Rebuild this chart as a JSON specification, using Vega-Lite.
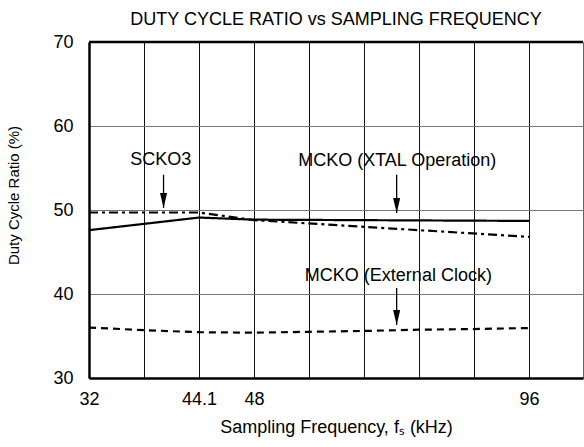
{
  "$schema": "https://vega.github.io/schema/vega-lite/v6.json",
  "width": 494,
  "height": 336,
  "autosize": "none",
  "padding": {"left": 89, "top": 42, "right": 1, "bottom": 69},
  "background": "white",
  "config": {
    "view": {"stroke": "#666666", "strokeWidth": 1},
    "font": "Liberation Sans",
    "axis": {"labelFont": "Liberation Sans", "titleFont": "Liberation Sans", "labelColor": "black", "titleColor": "black", "titleFontWeight": "normal", "ticks": false, "labelFlush": false, "labelOverlap": false}
  },
  "title": {"text": "DUTY CYCLE RATIO vs SAMPLING FREQUENCY", "fontSize": 18, "fontWeight": "normal", "font": "Liberation Sans", "color": "black", "anchor": "middle", "offset": 4},
  "datasets": {
    "lines": [
      {"series": "SCKO3", "f": 32, "v": 49.7},
      {"series": "SCKO3", "f": 44.1, "v": 49.7},
      {"series": "SCKO3", "f": 48, "v": 48.8},
      {"series": "SCKO3", "f": 96, "v": 46.8},
      {"series": "MCKO (XTAL Operation)", "f": 32, "v": 47.6},
      {"series": "MCKO (XTAL Operation)", "f": 44.1, "v": 49.1},
      {"series": "MCKO (XTAL Operation)", "f": 48, "v": 48.85},
      {"series": "MCKO (XTAL Operation)", "f": 96, "v": 48.7},
      {"series": "MCKO (External Clock)", "f": 32, "v": 36.0},
      {"series": "MCKO (External Clock)", "f": 38.05, "v": 35.7},
      {"series": "MCKO (External Clock)", "f": 44.1, "v": 35.45},
      {"series": "MCKO (External Clock)", "f": 48, "v": 35.4},
      {"series": "MCKO (External Clock)", "f": 57.6, "v": 35.5},
      {"series": "MCKO (External Clock)", "f": 67.2, "v": 35.6},
      {"series": "MCKO (External Clock)", "f": 76.8, "v": 35.75},
      {"series": "MCKO (External Clock)", "f": 86.4, "v": 35.83},
      {"series": "MCKO (External Clock)", "f": 96, "v": 35.95}
    ],
    "notes": [
      {"label": "SCKO3", "tf": 39.9, "tv": 55.95, "af": 40.2, "top": 54.2, "tip": 50.25},
      {"label": "MCKO (XTAL Operation)", "tf": 73.0, "tv": 55.8, "af": 72.9, "top": 54.2, "tip": 49.65},
      {"label": "MCKO (External Clock)", "tf": 73.2, "tv": 42.2, "af": 72.9, "top": 40.7, "tip": 36.3}
    ]
  },
  "layer": [
    {
      "data": {"name": "lines"},
      "mark": {"type": "line", "color": "black", "strokeWidth": 2.2},
      "encoding": {
        "x": {
          "field": "f", "type": "quantitative",
          "scale": {"domain": [32, 44.1, 48, 96, 105.4], "range": [0, 110, 165, 440, 494], "nice": false, "zero": false},
          "axis": {
            "title": "Sampling Frequency, fₛ (kHz)",
            "titleFontSize": 18,
            "titlePadding": 10,
            "labelFontSize": 18,
            "labelPadding": 12,
            "values": [32, 38.05, 44.1, 48, 57.6, 67.2, 76.8, 86.4, 96],
            "labelExpr": "datum.value == 32 ? '32' : datum.value == 44.1 ? '44.1' : datum.value == 48 ? '48' : datum.value == 96 ? '96' : ''",
            "grid": true, "gridColor": "#111111", "gridWidth": 1,
            "domainColor": "black", "domainWidth": 2.5
          }
        },
        "y": {
          "field": "v", "type": "quantitative",
          "scale": {"domain": [30, 70], "nice": false, "zero": false},
          "axis": {
            "title": "Duty Cycle Ratio (%)",
            "titleFontSize": 15,
            "titlePadding": 31,
            "titleY": 153,
            "labelFontSize": 18,
            "labelPadding": 16,
            "values": [30, 40, 50, 60, 70],
            "grid": true, "gridColor": "#777777", "gridWidth": 1,
            "domainColor": "black", "domainWidth": 2.5
          }
        },
        "strokeDash": {
          "field": "series", "type": "nominal",
          "scale": {"domain": ["SCKO3", "MCKO (XTAL Operation)", "MCKO (External Clock)"], "range": [[9, 4, 3, 4], [1, 0], [7, 5]]},
          "legend": null
        }
      }
    },
    {
      "data": {"name": "notes"},
      "mark": {"type": "rule", "color": "black", "strokeWidth": 1.3},
      "encoding": {
        "x": {"field": "af", "type": "quantitative"},
        "y": {"field": "top", "type": "quantitative"},
        "y2": {"field": "tip"}
      }
    },
    {
      "data": {"name": "notes"},
      "mark": {"type": "point", "shape": "M-0.47,-2L0.47,-2L0,0Z", "size": 225, "filled": true, "color": "black", "opacity": 1, "strokeWidth": 0},
      "encoding": {
        "x": {"field": "af", "type": "quantitative"},
        "y": {"field": "tip", "type": "quantitative"}
      }
    },
    {
      "data": {"name": "notes"},
      "mark": {"type": "text", "fontSize": 18, "color": "black", "baseline": "middle", "align": "center", "font": "Liberation Sans"},
      "encoding": {
        "x": {"field": "tf", "type": "quantitative"},
        "y": {"field": "tv", "type": "quantitative"},
        "text": {"field": "label"}
      }
    },
    {
      "data": {"values": [{}]},
      "mark": {"type": "rule", "color": "black", "strokeWidth": 2.5},
      "encoding": {"y": {"datum": 70}}
    }
  ]
}
